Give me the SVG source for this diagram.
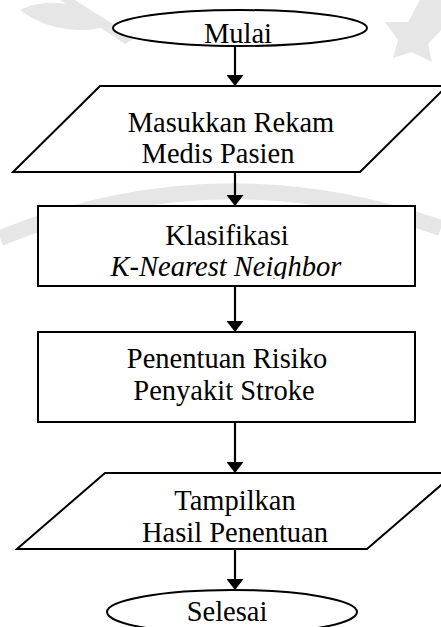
<svg xmlns="http://www.w3.org/2000/svg" width="441" height="627" viewBox="0 0 441 627">
<style>
.shape{fill:#ffffff;stroke:#000000;stroke-width:2}
.lbl{font-family:"Liberation Serif","Times New Roman",Times,"DejaVu Serif",serif;font-size:28.5px;fill:#000000;text-anchor:middle}
.it{font-style:italic}
.edge{stroke:#000000;stroke-width:2.2;fill:none}
.wm{fill:#e6e6e6;stroke:none}
</style>
<defs>
<marker id="ah" markerWidth="12" markerHeight="17" refX="11" refY="8.5" orient="auto" markerUnits="userSpaceOnUse">
<path d="M0,0 L11,8.5 L0,17 Z" fill="#000000"/>
</marker>
<clipPath id="clipK"><rect x="38" y="206" width="377" height="73"/></clipPath>
</defs>
<rect width="441" height="627" fill="#ffffff"/>
<g id="watermark">
<path class="wm" d="M20,10 C50,-5 90,5 110,25 C85,35 45,30 20,10 Z"/>
<path class="wm" d="M60,0 L75,0 L135,38 L125,44 Z"/>
<path class="wm" d="M385,22 L408,22 L420,0 L441,0 L441,30 L428,44 L432,62 L412,52 L393,58 L398,40 Z"/>
<path d="M0,238 Q220,150 441,228" stroke="#e6e6e6" stroke-width="16" fill="none"/>
</g>
<g id="connectors">
<line class="edge" x1="235" y1="46" x2="235" y2="86" marker-end="url(#ah)"/>
<line class="edge" x1="235" y1="162" x2="235" y2="206" marker-end="url(#ah)"/>
<line class="edge" x1="235" y1="286" x2="235" y2="332" marker-end="url(#ah)"/>
<line class="edge" x1="235" y1="422" x2="235" y2="473" marker-end="url(#ah)"/>
<line class="edge" x1="235" y1="549" x2="235" y2="590" marker-end="url(#ah)"/>
</g>
<g id="mulai">
<ellipse class="shape" cx="240" cy="28" rx="127" ry="18"/>
<text class="lbl" x="238" y="43">Mulai</text>
</g>
<g id="input">
<polygon class="shape" points="100,86 447,86 360,172 13,172"/>
<text class="lbl" x="231" y="132">Masukkan Rekam</text>
<text class="lbl" x="218" y="163">Medis Pasien</text>
</g>
<g id="klasifikasi">
<rect class="shape" x="38" y="206" width="377" height="80"/>
<text class="lbl" x="227" y="245">Klasifikasi</text>
<text class="lbl it" x="226" y="276" clip-path="url(#clipK)">K-Nearest Neighbor</text>
</g>
<g id="penentuan">
<rect class="shape" x="38" y="332" width="377" height="90"/>
<text class="lbl" x="227" y="368">Penentuan Risiko</text>
<text class="lbl" x="224" y="400">Penyakit Stroke</text>
</g>
<g id="tampilkan">
<polygon class="shape" points="105,473 455,473 367,549 17,549"/>
<text class="lbl" x="235" y="510">Tampilkan</text>
<text class="lbl" x="235" y="542">Hasil Penentuan</text>
</g>
<g id="selesai">
<ellipse class="shape" cx="232" cy="612" rx="125" ry="22"/>
<text class="lbl" x="227" y="621">Selesai</text>
</g>
</svg>
